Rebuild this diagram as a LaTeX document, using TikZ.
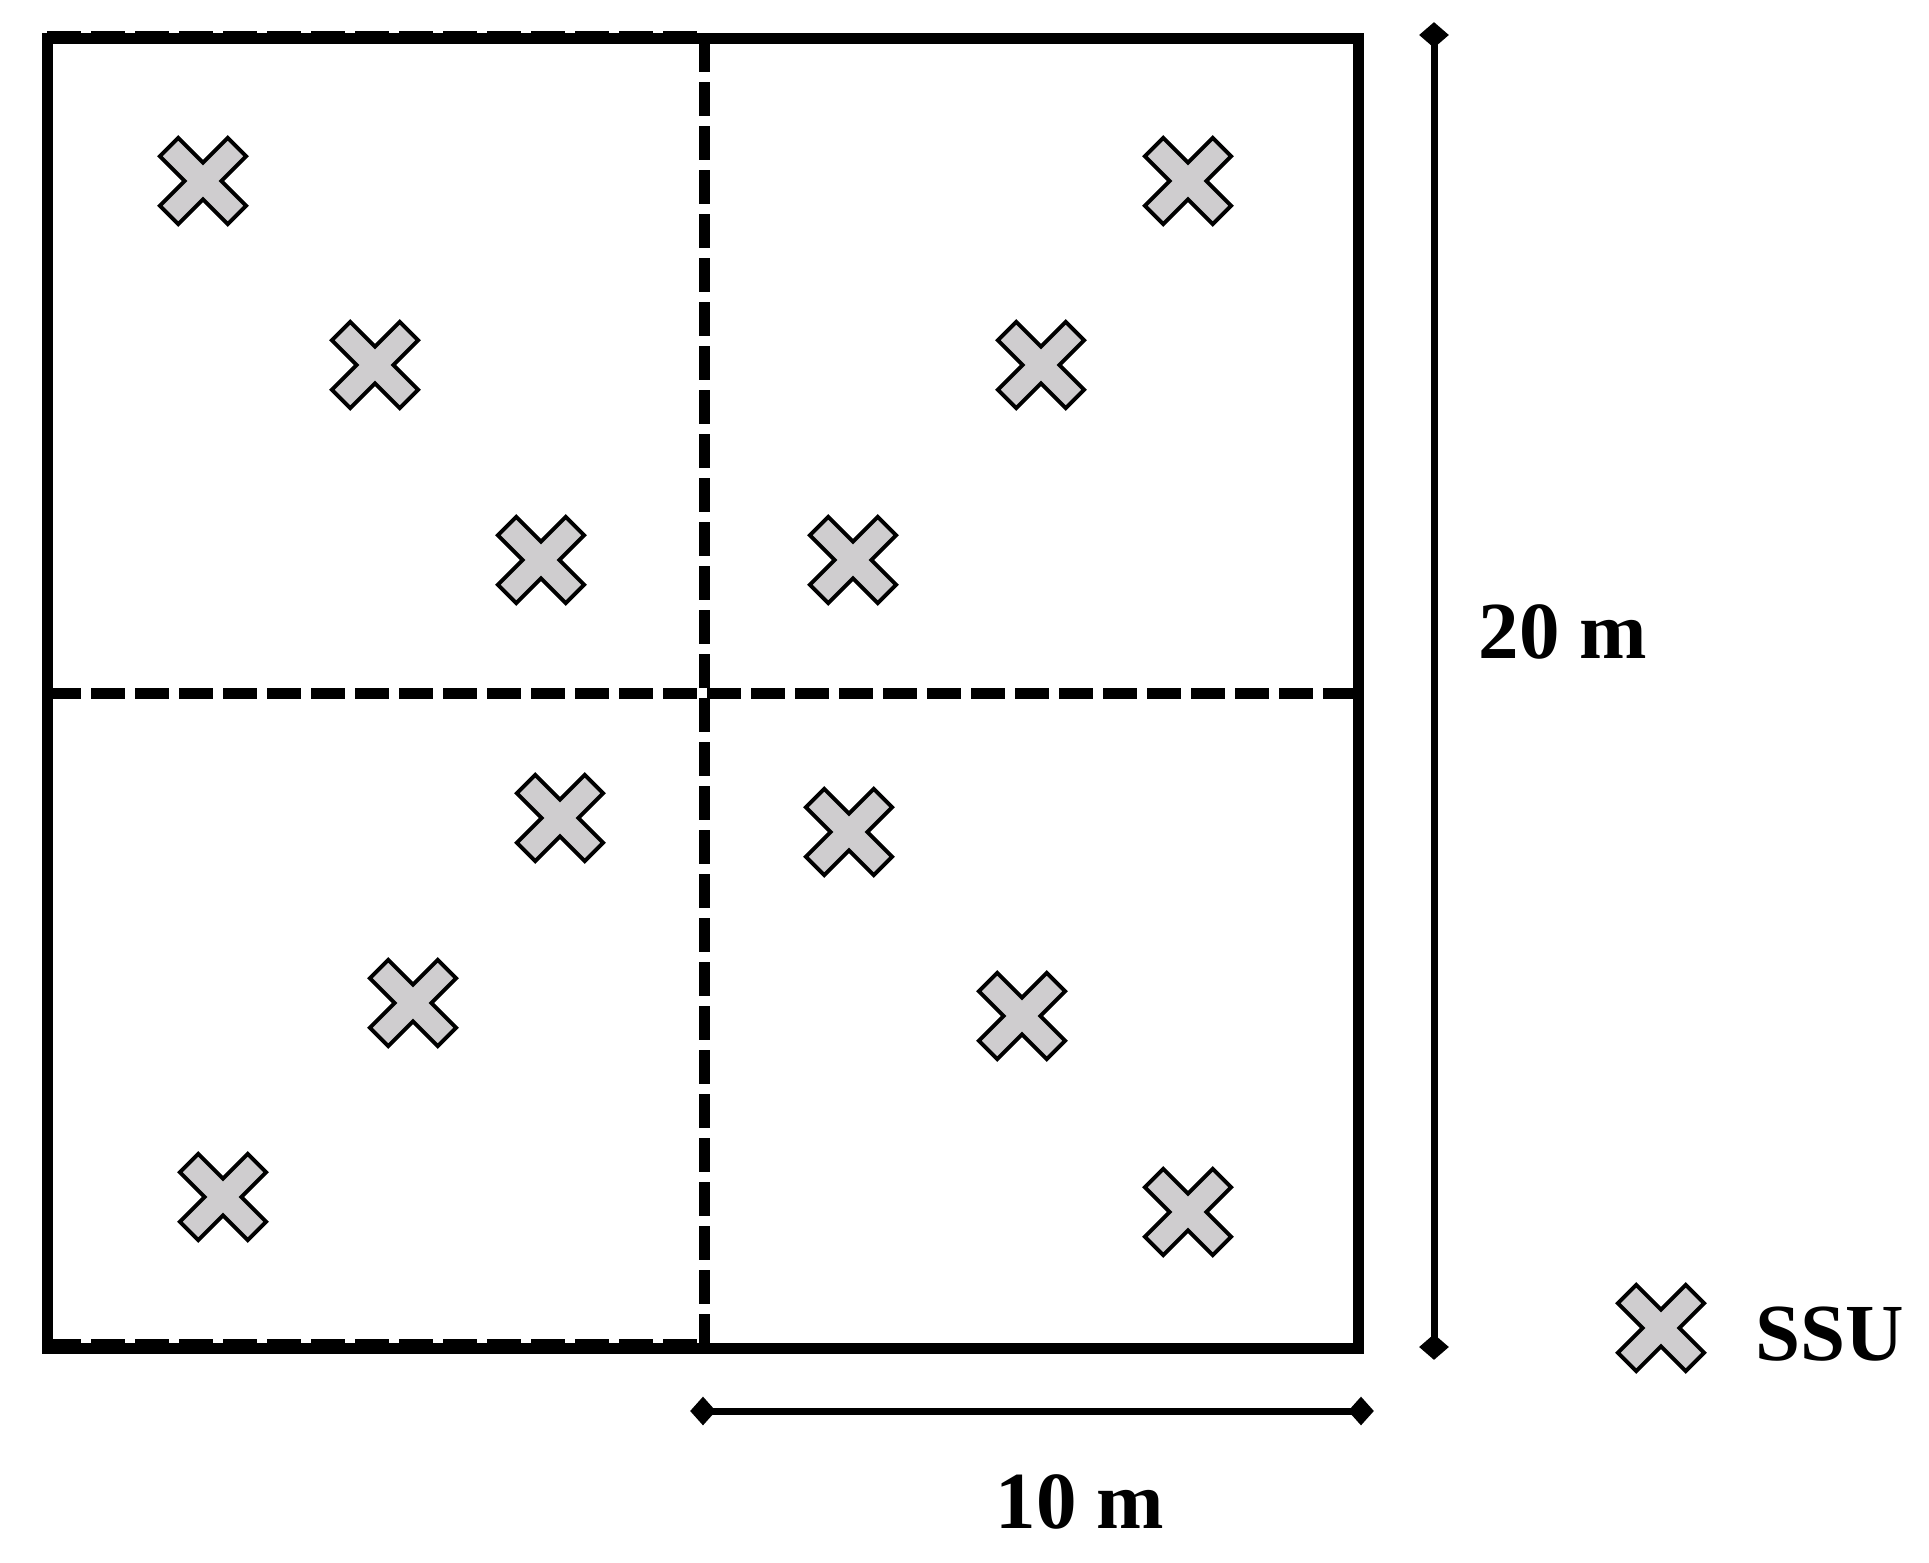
\documentclass[tikz,border=0pt]{standalone}
\usepackage{fontspec}
\setmainfont{Liberation Serif}
\usetikzlibrary{shapes.geometric}
\definecolor{ssugray}{RGB}{207,205,207}
\begin{document}
\begin{tikzpicture}[x=0.5pt,y=-0.5pt,
  frame/.style={line width=5.5pt},
  divider/.style={line width=5.5pt, dash pattern=on 17pt off 5pt},
  edgedash/.style={line width=3pt, dash pattern=on 17pt off 5pt},
  dimline/.style={line width=3.5pt},
  dimtiph/.style={diamond, fill=black, draw=none, inner sep=0pt, minimum width=13pt, minimum height=14.5pt},
  dimtipv/.style={diamond, fill=black, draw=none, inner sep=0pt, minimum width=15pt, minimum height=13pt},
  lbl/.style={font=\bfseries\fontsize{40.5}{48}\selectfont, inner sep=0pt},
  ssu/.pic={\filldraw[fill=ssugray, draw=black, line width=2pt, line join=miter, rotate=45]
     (13,13) -- (13,48) -- (-13,48) -- (-13,13) -- (-48,13) -- (-48,-13) -- (-13,-13) -- (-13,-48) -- (13,-48) -- (13,-13) -- (48,-13) -- (48,13) -- cycle;}
]
\useasboundingbox (0,0) rectangle (1929,1563);

% corners and division points
\coordinate (tl) at (47,38);
\coordinate (br) at (1358,1348);
\coordinate (mt) at (704,38);
\coordinate (mb) at (704,1348);
\coordinate (ml) at (47,693);
\coordinate (mr) at (1358,693);

% faint dashed edges of the left half
\coordinate (etl) at (47,34);
\coordinate (etr) at (704,34);
\coordinate (ebl) at (47,1342);
\coordinate (ebr) at (704,1342);
\draw[edgedash] (etl) -- (etr);
\draw[edgedash] (ebl) -- (ebr);

% plot outline and subdivisions
\draw[frame] (tl) rectangle (br);
\draw[divider] (mt) -- (mb);
\draw[divider] (ml) -- (mr);

% SSU markers
\pic (c1) at (203,181) {ssu};
\pic (c2) at (375,365) {ssu};
\pic (c3) at (541,560) {ssu};
\pic (c4) at (1188,181) {ssu};
\pic (c5) at (1041,365) {ssu};
\pic (c6) at (853,560) {ssu};
\pic (c7) at (560,818) {ssu};
\pic (c8) at (413,1003) {ssu};
\pic (c9) at (223,1197) {ssu};
\pic (c10) at (849,832) {ssu};
\pic (c11) at (1022,1016) {ssu};
\pic (c12) at (1188,1212) {ssu};

% vertical dimension
\node[dimtipv] (vt) at (1434,35) {};
\node[dimtipv] (vb) at (1434,1347) {};
\draw[dimline] (vt.center) -- (vb.center);
\node[lbl] (l20) at (1563,632) {20 m};

% horizontal dimension
\node[dimtiph] (hl) at (703,1411) {};
\node[dimtiph] (hr) at (1361,1411) {};
\draw[dimline] (hl.center) -- (hr.center);
\node[lbl] (l10) at (1080,1502) {10 m};

% legend
\pic (leg) at (1661,1328) {ssu};
\node[lbl, anchor=west] (lssu) at (1755,1334) {SSU};
\end{tikzpicture}
\end{document}
